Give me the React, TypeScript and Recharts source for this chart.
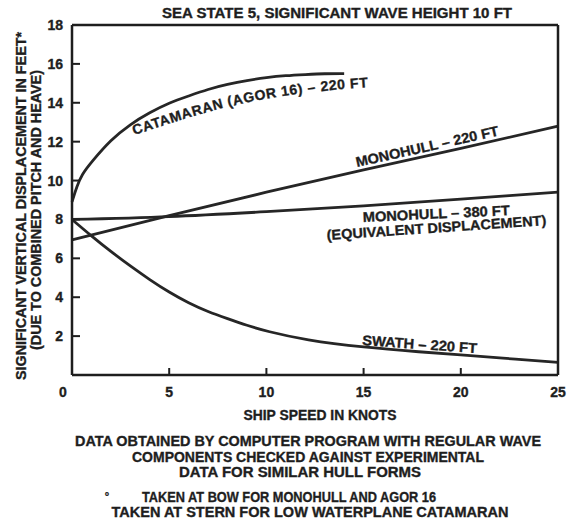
import React from "react";
import { LineChart, Line, XAxis, YAxis } from "recharts";

// values (feet vs knots)
const catamaranSpeed = [0, 0.25, 0.5, 1, 2, 3, 4, 5, 6, 7, 8, 9, 10, 11, 12, 13, 14];
const catamaranFt = [8.9, 9.7, 10.3, 10.95, 12.1, 12.9, 13.5, 14.0, 14.35, 14.7, 14.95, 15.15, 15.3, 15.4, 15.45, 15.5, 15.5];

const mono220Speed = [0, 5, 10, 15, 20, 25];
const mono220Ft = [6.95, 8.2, 9.4, 10.55, 11.65, 12.8];

const mono380Speed = [0, 5, 10, 15, 20, 25];
const mono380Ft = [8.0, 8.15, 8.4, 8.7, 9.05, 9.4];

const swathSpeed = [0, 1, 2, 3, 4, 5, 6, 7, 8, 9, 10, 12, 15, 18, 20, 22, 25];
const swathFt = [8.0, 7.15, 6.35, 5.6, 4.9, 4.25, 3.7, 3.25, 2.9, 2.55, 2.25, 1.8, 1.42, 1.18, 1.03, 0.88, 0.65];

const xTicks = [0, 5, 10, 15, 20, 25];
const yTicks = [2, 4, 6, 8, 10, 12, 14, 16, 18];
const innerXTicks = [5, 10, 15, 20];
const innerYTicks = [2, 4, 6, 8, 10, 12, 14, 16];

const INK = "#1e1e1e";
const FONT = "'Liberation Sans', Arial, sans-serif";

const rows = (speed: number[], ft: number[]) => speed.map((s, i) => ({ speed: s, ft: ft[i] }));

const txt = {
  fontFamily: FONT,
  fontWeight: 700,
  fontSize: 14,
  fill: INK,
  stroke: INK,
  strokeWidth: 0.35,
} as const;

const BottomTick = ({ x, y, payload }: any) => {
  const v = payload.value;
  return (
    <g>
      {v > 0 && v < 25 && <line x1={x} x2={x} y1={y} y2={y - 7} stroke={INK} strokeWidth={2} />}
      <text x={v === 0 ? x - 9 : x} y={y + 22} textAnchor="middle" {...txt}>
        {v}
      </text>
    </g>
  );
};

const TopTick = ({ x, y }: any) => (
  <line x1={x} x2={x} y1={y} y2={y + 7} stroke={INK} strokeWidth={2} />
);

const LeftTick = ({ x, y, payload }: any) => (
  <g>
    {payload.value < 18 && <line x1={x} x2={x + 8} y1={y} y2={y} stroke={INK} strokeWidth={2} />}
    <text x={x - 9} y={y + 5} textAnchor="end" {...txt}>
      {payload.value}
    </text>
  </g>
);

const RightTick = ({ x, y }: any) => (
  <line x1={x} x2={x - 8} y1={y} y2={y} stroke={INK} strokeWidth={2} />
);

const series = [
  { name: "catamaran", data: rows(catamaranSpeed, catamaranFt), curve: "basis" },
  { name: "mono220", data: rows(mono220Speed, mono220Ft), curve: "monotone" },
  { name: "mono380", data: rows(mono380Speed, mono380Ft), curve: "monotone" },
  { name: "swath", data: rows(swathSpeed, swathFt), curve: "basis" },
];

export default function App() {
  return (
    <div style={{ position: "absolute", left: 0, top: 0, width: 574, height: 524, background: "#fff" }}>
      <LineChart width={574} height={400} margin={{ top: 24, right: 15, left: 71, bottom: 24 }}>
        <XAxis
          xAxisId="bottom"
          type="number"
          dataKey="speed"
          domain={[0, 25]}
          ticks={xTicks}
          interval={0}
          height={1}
          tickSize={0}
          tickMargin={0}
          tickLine={false}
          axisLine={{ stroke: INK, strokeWidth: 2.5 }}
          tick={BottomTick}
        />
        <XAxis
          xAxisId="top"
          orientation="top"
          type="number"
          dataKey="speed"
          domain={[0, 25]}
          ticks={innerXTicks}
          interval={0}
          height={1}
          tickSize={0}
          tickMargin={0}
          tickLine={false}
          axisLine={{ stroke: INK, strokeWidth: 2.5 }}
          tick={TopTick}
        />
        <YAxis
          yAxisId="left"
          type="number"
          domain={[0, 18]}
          ticks={yTicks}
          interval={0}
          width={1}
          tickSize={0}
          tickMargin={0}
          tickLine={false}
          axisLine={{ stroke: INK, strokeWidth: 2.5 }}
          tick={LeftTick}
        />
        <YAxis
          yAxisId="right"
          orientation="right"
          type="number"
          domain={[0, 18]}
          ticks={innerYTicks}
          interval={0}
          width={1}
          tickSize={0}
          tickMargin={0}
          tickLine={false}
          axisLine={{ stroke: INK, strokeWidth: 2.5 }}
          tick={RightTick}
        />
        {series.map((s) => (
          <Line
            key={s.name}
            xAxisId="bottom"
            yAxisId="left"
            data={s.data}
            dataKey="ft"
            type={s.curve as any}
            stroke="#262626"
            strokeWidth={2.8}
            dot={false}
            activeDot={false}
            isAnimationActive={false}
          />
        ))}
      </LineChart>

      <svg
        width={574}
        height={524}
        style={{ position: "absolute", left: 0, top: 0, pointerEvents: "none" }}
      >
        <defs>
          <path id="catPath" d="M 134 135 C 190 118, 240 95, 372 87" fill="none" />
        </defs>
        <g {...txt}>
          <text x={337} y={18} textAnchor="middle" textLength={350} lengthAdjust="spacingAndGlyphs">
            SEA STATE 5,  SIGNIFICANT WAVE HEIGHT 10 FT
          </text>

          <text x={26} y={206} transform="rotate(-90 26 206)" textAnchor="middle" textLength={348} lengthAdjust="spacingAndGlyphs">
            SIGNIFICANT VERTICAL DISPLACEMENT IN FEET*
          </text>
          <text x={41} y={210} transform="rotate(-90 41 210)" textAnchor="middle" textLength={280} lengthAdjust="spacingAndGlyphs">
            (DUE TO COMBINED PITCH AND HEAVE)
          </text>

          <text style={{ letterSpacing: 0.6 }}>
            <textPath href="#catPath">CATAMARAN (AGOR 16) – 220 FT</textPath>
          </text>
          <text x={357} y={167} transform="rotate(-12.5 357 167)" textLength={146} lengthAdjust="spacingAndGlyphs">
            MONOHULL – 220 FT
          </text>
          <text x={363} y={222} transform="rotate(-2.7 363 222)" textLength={147} lengthAdjust="spacingAndGlyphs">
            MONOHULL – 380 FT
          </text>
          <text x={327} y={240} transform="rotate(-3.9 327 240)" textLength={220} lengthAdjust="spacingAndGlyphs">
            (EQUIVALENT DISPLACEMENT)
          </text>
          <text x={362} y={345} transform="rotate(4 362 345)" textLength={115} lengthAdjust="spacingAndGlyphs">
            SWATH – 220 FT
          </text>

          <text x={320} y={420} textAnchor="middle" textLength={153} lengthAdjust="spacingAndGlyphs">
            SHIP SPEED IN KNOTS
          </text>

          <text x={308} y={446} textAnchor="middle" textLength={466} lengthAdjust="spacingAndGlyphs">
            DATA OBTAINED BY COMPUTER PROGRAM WITH REGULAR WAVE
          </text>
          <text x={308} y={462} textAnchor="middle" textLength={352} lengthAdjust="spacingAndGlyphs">
            COMPONENTS CHECKED AGAINST EXPERIMENTAL
          </text>
          <text x={300} y={477} textAnchor="middle" textLength={242} lengthAdjust="spacingAndGlyphs">
            DATA FOR SIMILAR HULL FORMS
          </text>
          <text x={107} y={500} textAnchor="middle" fontSize={11}>
            °
          </text>
          <text x={289} y={502} textAnchor="middle" textLength={294} lengthAdjust="spacingAndGlyphs">
            TAKEN AT BOW FOR MONOHULL AND AGOR 16
          </text>
          <text x={310} y={517} textAnchor="middle" textLength={397} lengthAdjust="spacingAndGlyphs">
            TAKEN AT STERN FOR LOW WATERPLANE CATAMARAN
          </text>
        </g>
      </svg>
    </div>
  );
}
